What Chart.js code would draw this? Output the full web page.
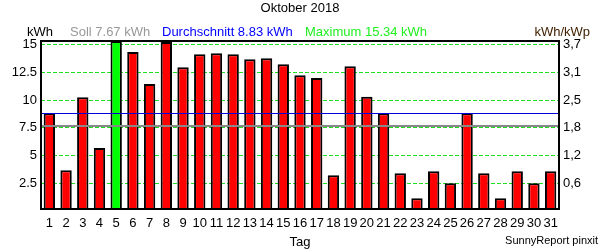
<!DOCTYPE html>
<html>
<head>
<meta charset="utf-8">
<title>Oktober 2018</title>
<script src="https://cdn.jsdelivr.net/npm/chart.js@4"></script>
<style>
  body { margin: 0; background: #fff; }
  canvas { display: block; }
</style>
</head>
<body>
<canvas id="dayChart" width="600" height="250"></canvas>
<script>
// Daily yield, October 2018 (kWh)
const days = ['1','2','3','4','5','6','7','8','9','10','11','12','13','14','15','16',
              '17','18','19','20','21','22','23','24','25','26','27','28','29','30','31'];
const dayKwh = [8.83, 3.68, 10.27, 5.69, 15.34, 14.34, 11.45, 15.25, 12.98, 14.15, 14.24,
                14.15, 13.70, 13.79, 13.25, 12.26, 11.99, 3.22, 13.07, 10.30, 8.83, 3.40,
                1.15, 3.59, 2.50, 8.83, 3.40, 1.15, 3.59, 2.50, 3.59];

// Reference values from the header
const sollKwh = 7.67;
const avgKwh = 8.83;

// Tick labels: left axis kWh, right axis kWh/kWp
const kwhTicks = [2.5, 5, 7.5, 10, 12.5, 15];
const kwpTicks = ['0,6', '1,2', '1,8', '2,5', '3,1', '3,7'];

const maxKwh = Math.max(...dayKwh);
const fontFamily = '"Liberation Sans", Arial, sans-serif';

Chart.defaults.font.family = fontFamily;
Chart.defaults.font.size = 13;
Chart.defaults.color = '#000';

// Titles, header texts, reference lines and plot frame
const sunnyReportPlugin = {
    id: 'sunnyReport',
    afterDatasetsDraw(chart) {
        const ctx = chart.ctx;
        const area = chart.chartArea;
        const y = chart.scales.y;
        ctx.save();
        // Soll line (grey)
        ctx.strokeStyle = '#888888';
        ctx.lineWidth = 2;
        ctx.beginPath();
        ctx.moveTo(area.left, Math.round(y.getPixelForValue(sollKwh)));
        ctx.lineTo(area.right, Math.round(y.getPixelForValue(sollKwh)));
        ctx.stroke();
        // Average line (blue)
        ctx.strokeStyle = '#0000dd';
        ctx.lineWidth = 1;
        ctx.beginPath();
        ctx.moveTo(area.left, Math.round(y.getPixelForValue(avgKwh)) + 0.5);
        ctx.lineTo(area.right, Math.round(y.getPixelForValue(avgKwh)) + 0.5);
        ctx.stroke();
        ctx.restore();
    },
    afterDraw(chart) {
        const ctx = chart.ctx;
        const area = chart.chartArea;
        ctx.save();
        // frame around plot
        ctx.strokeStyle = '#000';
        ctx.lineWidth = 2;
        ctx.strokeRect(area.left, area.top, area.right - area.left, area.bottom - area.top);

        ctx.textBaseline = 'middle';
        ctx.font = '13px ' + fontFamily;
        ctx.fillStyle = '#000';
        ctx.textAlign = 'center';
        ctx.fillText('Oktober 2018', 300, 8);

        ctx.textAlign = 'left';
        ctx.fillText('kWh', 27, 32);
        ctx.fillStyle = '#999999';
        ctx.fillText('Soll ' + sollKwh.toFixed(2) + ' kWh', 70, 32);
        ctx.fillStyle = '#0000ff';
        ctx.fillText('Durchschnitt ' + avgKwh.toFixed(2) + ' kWh', 162, 32);
        ctx.fillStyle = '#22ee22';
        ctx.fillText('Maximum ' + maxKwh.toFixed(2) + ' kWh', 305, 32);
        ctx.fillStyle = '#402000';
        ctx.textAlign = 'right';
        ctx.fillText('kWh/kWp', 590, 32);

        ctx.fillStyle = '#000';
        ctx.textAlign = 'center';
        ctx.fillText('Tag', (area.left + area.right) / 2, 242);
        ctx.font = '11px ' + fontFamily;
        ctx.textAlign = 'right';
        ctx.fillText('SunnyReport pinxit', 598, 241);
        ctx.restore();
    }
};

const ctx = document.getElementById('dayChart').getContext('2d');
const dayChart = new Chart(ctx, {
    type: 'bar',
    data: {
        labels: days,
        datasets: [{
            data: dayKwh,
            backgroundColor: dayKwh.map(v => v === maxKwh ? '#00ff00' : '#ff0000'),
            borderColor: '#000',
            borderWidth: 2,
            borderSkipped: 'bottom',
            barPercentage: 0.68,
            categoryPercentage: 1.0
        }]
    },
    options: {
        responsive: false,
        animation: false,
        devicePixelRatio: 1,
        layout: { padding: { top: 41, left: 0, right: 0, bottom: 0 } },
        plugins: {
            legend: { display: false },
            title: { display: false },
            tooltip: { enabled: false }
        },
        scales: {
            x: {
                grid: { display: false, drawTicks: false },
                border: { display: false },
                ticks: { autoSkip: false, maxRotation: 0, padding: 7 },
                afterFit: s => { s.height = 41; }
            },
            y: {
                position: 'left',
                min: 0.18,
                max: 15.34,
                afterBuildTicks: s => { s.ticks = kwhTicks.map(v => ({ value: v })); },
                ticks: { padding: 4, callback: v => String(v) },
                grid: { color: '#22dd22', lineWidth: 1, drawTicks: false },
                border: { display: false, dash: [4, 2] },
                afterFit: s => { s.width = 41; }
            },
            y2: {
                position: 'right',
                min: 0.18,
                max: 15.34,
                afterBuildTicks: s => { s.ticks = kwhTicks.map(v => ({ value: v })); },
                ticks: { padding: 4, callback: (v, i) => kwpTicks[i] },
                grid: { display: false, drawTicks: false },
                border: { display: false },
                afterFit: s => { s.width = 41; }
            }
        }
    },
    plugins: [sunnyReportPlugin]
});
</script>
</body>
</html>
